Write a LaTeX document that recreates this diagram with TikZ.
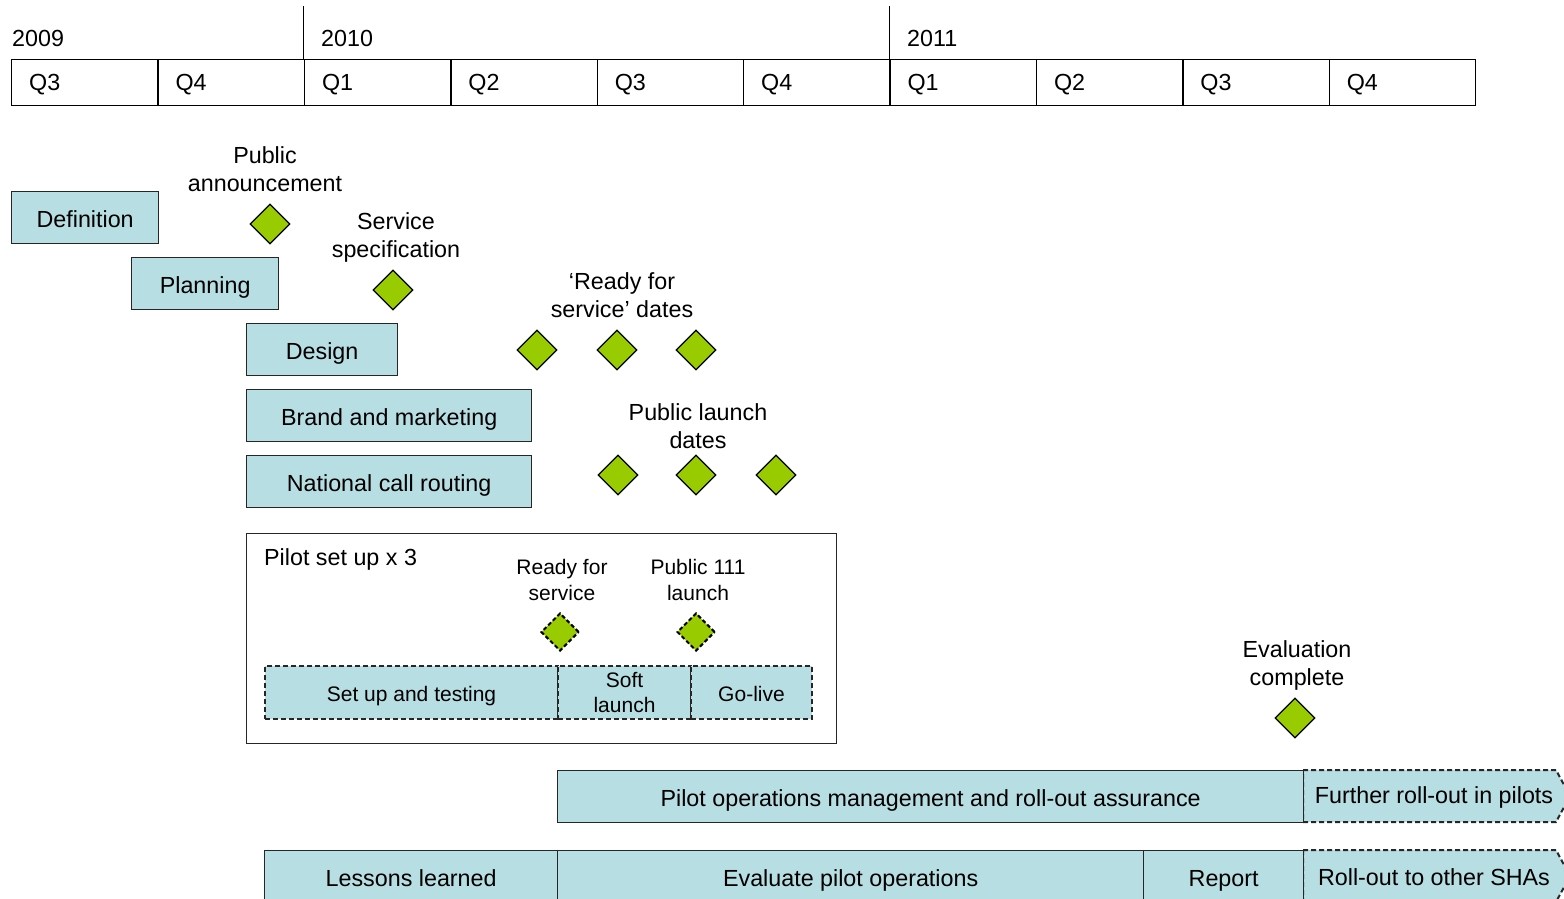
\documentclass[tikz,border=0pt]{standalone}
\usepackage{fontspec}
\setmainfont{Liberation Sans}
\usetikzlibrary{shapes.geometric}
\definecolor{boxfill}{RGB}{183,222,226}
\definecolor{msgreen}{RGB}{153,204,0}
\begin{document}
\begin{tikzpicture}[x=1pt,y=-1pt,
  big/.style={font=\fontsize{23.3}{28}\selectfont},
  small/.style={font=\fontsize{21}{25.5}\selectfont},
  taskbox/.style={draw=black!85, line width=1.3pt, fill=boxfill, inner sep=0pt, anchor=north west, big, text height=20.6pt, text depth=0pt},
  dashbox/.style={draw=black!85, fill=boxfill, inner sep=0pt, anchor=north west, dash pattern=on 5pt off 3pt, line width=2pt, small, align=center},
  oneline/.style={text height=18pt, text depth=0pt},
  dashshape/.style={draw=black!85, fill=boxfill, dash pattern=on 5pt off 3pt, line width=2pt},
  qcell/.style={draw=black, line width=1.3pt, minimum width=146.4, minimum height=46, anchor=north west, inner sep=0pt},
  ms/.style={diamond, draw=black, line width=1.3pt, fill=msgreen, minimum width=40, minimum height=40, inner sep=0pt},
  msdash/.style={ms, dash pattern=on 4pt off 2.5pt, line width=2pt, minimum width=38, minimum height=38},
  lbl/.style={align=center, big, inner sep=0pt},
  slbl/.style={align=center, small, inner sep=0pt},
]
\useasboundingbox (0,0) rectangle (1564,899);
% timeline
\foreach \i/\q in {0/Q3,1/Q4,2/Q1,3/Q2,4/Q3,5/Q4,6/Q1,7/Q2,8/Q3,9/Q4}{
  \node[qcell] (q\i) at ({11+146.4*\i},59) {};
  \node[big, anchor=base west, inner sep=0pt] (ql\i) at ({11+146.4*\i+18},91) {\q};
}
\draw[line width=1.3pt] (q2.north west) -- ++(0,-53);
\draw[line width=1.3pt] (q6.north west) -- ++(0,-53);
\node[big, anchor=west, inner sep=0pt] (y2009) at (12,38) {2009};
\node[big, anchor=west, inner sep=0pt] (y2010) at (321,38) {2010};
\node[big, anchor=west, inner sep=0pt] (y2011) at (907,38) {2011};

% tasks
\node[taskbox, minimum width=147, minimum height=52] (def) at (11,191) {Definition};
\node[taskbox, minimum width=147, minimum height=52] (plan) at (131,257) {Planning};
\node[taskbox, minimum width=151, minimum height=52] (design) at (246,323) {Design};
\node[taskbox, minimum width=285, minimum height=52] (brand) at (246,389) {Brand and marketing};
\node[taskbox, minimum width=285, minimum height=52] (ncr) at (246,455) {National call routing};

% milestones
\node[lbl] (lpa) at (265,169) {Public\\announcement};
\node[ms] (mpa) at (270,224) {};
\node[lbl] (lss) at (396,237) {Service\\specification};
\node[ms] (mss) at (393,290) {};
\node[lbl] (lrs) at (622,295) {‘Ready for\\service’ dates};
\node[ms] (mrs1) at (537,350) {};
\node[ms] (mrs2) at (617,350) {};
\node[ms] (mrs3) at (696,350) {};
\node[lbl] (lpl) at (698,426) {Public launch\\dates};
\node[ms] (mpl1) at (618,475) {};
\node[ms] (mpl2) at (696,475) {};
\node[ms] (mpl3) at (776,475) {};

% pilot set up
\node[draw=black!85, line width=1.3pt, anchor=north west, minimum width=590, minimum height=210, inner sep=0pt] (pilot) at (246,533) {};
\node[big, anchor=west, inner sep=0pt] (pilotl) at (264,559) {Pilot set up x 3};
\node[slbl] (lrfs) at (562,580) {Ready for\\service};
\node[slbl] (lp111) at (698,580) {Public 111\\launch};
\node[msdash] (mrfs) at (560,632) {};
\node[msdash] (mp111) at (696,632) {};
\node[dashbox, oneline, minimum width=293, minimum height=53] (setup) at (264,665) {Set up and testing};
\node[dashbox, minimum width=133, minimum height=53] (soft) at (557,665) {Soft\\launch};
\node[dashbox, oneline, minimum width=121, minimum height=53] (golive) at (690,665) {Go-live};

% evaluation
\node[lbl] (lec) at (1297,665) {Evaluation\\complete};
\node[ms] (mec) at (1295,718) {};

% operations row
\draw[dashshape] (1303,770) -- (1556,770) -- (1570,796) -- (1556,822) -- (1303,822) -- cycle;
\node[big, inner sep=0pt] (further) at (1434,797) {Further roll-out in pilots};
\node[taskbox, minimum width=746, minimum height=52] (ops) at (557,770) {Pilot operations management and roll-out assurance};

% evaluation row
\draw[dashshape] (1303,850) -- (1556,850) -- (1570,876) -- (1556,902) -- (1556,904) -- (1303,904) -- cycle;
\node[big, inner sep=0pt] (rollout) at (1434,877) {Roll-out to other SHAs};
\node[taskbox, minimum width=293, minimum height=52] (lessons) at (264,850) {Lessons learned};
\node[taskbox, minimum width=586, minimum height=52] (evalops) at (557,850) {Evaluate pilot operations};
\node[taskbox, minimum width=160, minimum height=52] (report) at (1143,850) {Report};
\end{tikzpicture}
\end{document}
